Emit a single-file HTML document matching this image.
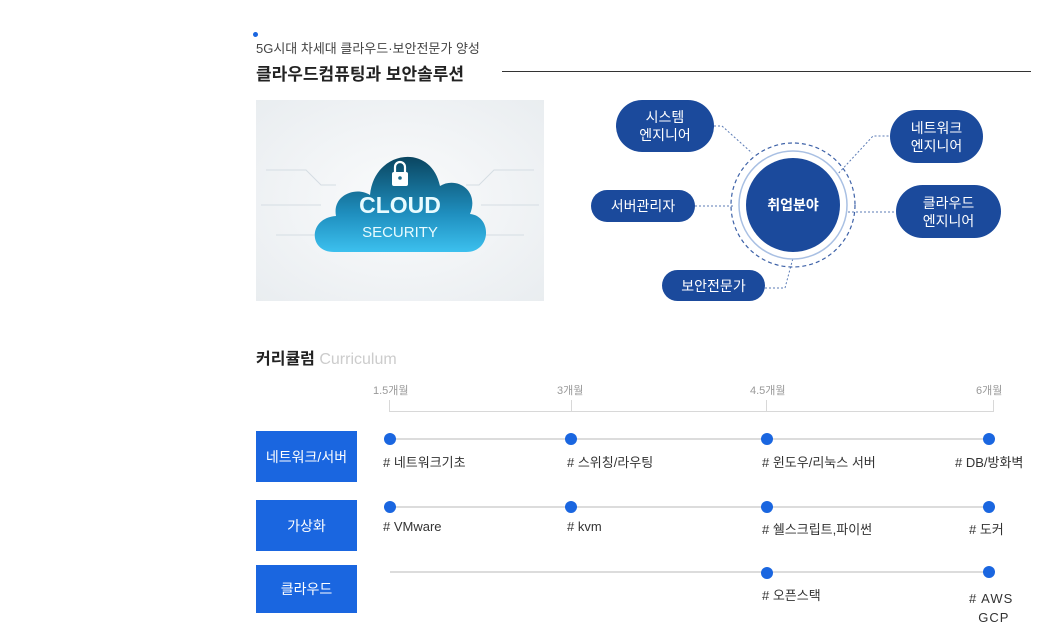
<!DOCTYPE html>
<html><head><meta charset="utf-8"><style>
body{margin:0;width:1040px;height:644px;background:#fff;position:relative;font-family:"Liberation Sans","Noto Sans CJK KR",sans-serif;overflow:hidden}
.a{position:absolute;white-space:nowrap}
.pill{position:absolute;background:#1b4a9c;color:#fff;display:flex;align-items:center;justify-content:center;text-align:center;font-size:14px;line-height:18px;border-radius:30px}
.btn{position:absolute;left:256px;width:101px;background:#1a66e0;color:#fff;display:flex;align-items:center;justify-content:center;font-size:14px}
.ln{position:absolute;height:2px;background:#dcdcdc}
.dot{position:absolute;width:12px;height:12px;border-radius:50%;background:#1a66e0}
.lb{position:absolute;font-size:13px;color:#333;white-space:nowrap}
.t{position:absolute;font-size:11px;color:#999}
</style></head><body>
<div class="a" style="left:253px;top:32px;width:5px;height:5px;border-radius:50%;background:#1a66e0"></div>
<div class="a" style="left:256px;top:38px;font-size:13px;color:#444">5G시대 차세대 클라우드·보안전문가 양성</div>
<div class="a" style="left:256px;top:60px;font-size:17px;font-weight:bold;color:#222">클라우드컴퓨팅과 보안솔루션</div>
<div class="a" style="left:502px;top:71px;width:529px;height:1px;background:#333"></div>
<div class="a" style="left:256px;top:100px;width:288px;height:201px;background:radial-gradient(ellipse at center,#fafbfc 0%,#e9edf0 100%)">
<svg width="288" height="201" style="position:absolute;left:0;top:0">
<defs><linearGradient id="g" x1="0" y1="0" x2="0" y2="1"><stop offset="0" stop-color="#0a4560"/><stop offset="0.6" stop-color="#1f8fbf"/><stop offset="1" stop-color="#3cc0ee"/></linearGradient></defs>
<g stroke="#d5dde3" fill="none" stroke-width="1">
<path d="M10 70 H50 L65 85 H80"/><path d="M5 105 H65"/><path d="M20 135 H70 L80 125"/>
<path d="M278 70 H238 L223 85 H210"/><path d="M283 105 H225"/><path d="M268 135 H218 L208 125"/>
</g>
<path d="M78 152 C52 152 52 118 80 116 C76 95 100 86 114 95 C118 50 175 42 184 86 C200 76 224 90 214 114 C236 116 236 152 210 152 Z" fill="url(#g)"/>
<rect x="136" y="72" width="16" height="14" rx="2" fill="#fff"/><path d="M139 72 v-5 a5 5 0 0 1 10 0 v5" stroke="#fff" stroke-width="2.2" fill="none"/>
<circle cx="144" cy="78" r="1.8" fill="#1a6a8a"/>
<text x="144" y="113" fill="#e8fbff" font-size="23" font-weight="bold" text-anchor="middle" font-family="Liberation Sans">CLOUD</text>
<text x="144" y="137" fill="#e8fbff" font-size="15" text-anchor="middle" font-family="Liberation Sans">SECURITY</text>
</svg></div>
<svg class="a" style="left:0;top:0" width="1040" height="320">
<g stroke="#5b7bb5" stroke-width="1" stroke-dasharray="2,2" fill="none">
<path d="M714 126 H722 L752 153"/><path d="M836 176 L873 136 H890"/><path d="M695 206 H735"/><path d="M840 212 H896"/><path d="M765 288 H785 L793 258"/>
</g>
<circle cx="793" cy="205" r="62" fill="none" stroke="#3e62a8" stroke-width="1.2" stroke-dasharray="4,3"/>
<circle cx="793" cy="205" r="54" fill="#fff" stroke="#a9c0e3" stroke-width="1.5"/>
<circle cx="793" cy="205" r="47" fill="#1b4a9c"/>
<text x="793" y="210" fill="#fff" font-size="14" font-weight="bold" text-anchor="middle" font-family="Liberation Sans,Noto Sans CJK KR">취업분야</text>
</svg>
<div class="pill" style="left:616px;top:100px;width:98px;height:52px">시스템<br>엔지니어</div>
<div class="pill" style="left:890px;top:110px;width:93px;height:53px">네트워크<br>엔지니어</div>
<div class="pill" style="left:591px;top:190px;width:104px;height:32px">서버관리자</div>
<div class="pill" style="left:896px;top:185px;width:105px;height:53px">클라우드<br>엔지니어</div>
<div class="pill" style="left:662px;top:270px;width:103px;height:31px">보안전문가</div>
<div class="a" style="left:256px;top:345px;font-size:16px;font-weight:bold;color:#222">커리큘럼 <span style="font-weight:normal;color:#ccc">Curriculum</span></div>
<div class="t" style="left:373px;top:382px">1.5개월</div>
<div class="t" style="left:557px;top:382px">3개월</div>
<div class="t" style="left:750px;top:382px">4.5개월</div>
<div class="t" style="left:976px;top:382px">6개월</div>
<div class="a" style="left:389px;top:411px;width:605px;height:1px;background:#d8d8d8"></div>
<div class="a" style="left:389px;top:400px;width:1px;height:11px;background:#d8d8d8"></div>
<div class="a" style="left:571px;top:400px;width:1px;height:11px;background:#d8d8d8"></div>
<div class="a" style="left:766px;top:400px;width:1px;height:11px;background:#d8d8d8"></div>
<div class="a" style="left:993px;top:400px;width:1px;height:11px;background:#d8d8d8"></div>
<div class="btn" style="top:431px;height:51px">네트워크/서버</div>
<div class="btn" style="top:500px;height:51px">가상화</div>
<div class="btn" style="top:565px;height:48px">클라우드</div>
<div class="ln" style="left:390px;top:438px;width:600px"></div>
<div class="ln" style="left:390px;top:506px;width:600px"></div>
<div class="ln" style="left:390px;top:571px;width:600px"></div>
<div class="dot" style="left:384px;top:433px"></div><div class="dot" style="left:565px;top:433px"></div><div class="dot" style="left:761px;top:433px"></div><div class="dot" style="left:983px;top:433px"></div>
<div class="dot" style="left:384px;top:501px"></div><div class="dot" style="left:565px;top:501px"></div><div class="dot" style="left:761px;top:501px"></div><div class="dot" style="left:983px;top:501px"></div>
<div class="dot" style="left:761px;top:567px"></div><div class="dot" style="left:983px;top:566px"></div>
<div class="lb" style="left:383px;top:452px"># 네트워크기초</div>
<div class="lb" style="left:567px;top:452px"># 스위칭/라우팅</div>
<div class="lb" style="left:762px;top:452px"># 윈도우/리눅스 서버</div>
<div class="lb" style="left:955px;top:452px"># DB/방화벽</div>
<div class="lb" style="left:383px;top:519px"># VMware</div>
<div class="lb" style="left:567px;top:519px"># kvm</div>
<div class="lb" style="left:762px;top:519px"># 쉘스크립트,파이썬</div>
<div class="lb" style="left:969px;top:519px"># 도커</div>
<div class="lb" style="left:762px;top:585px"># 오픈스택</div>
<div class="lb" style="left:969px;top:589px;line-height:19px;letter-spacing:1px"># AWS<br>&nbsp;&nbsp;GCP</div>
</body></html>
